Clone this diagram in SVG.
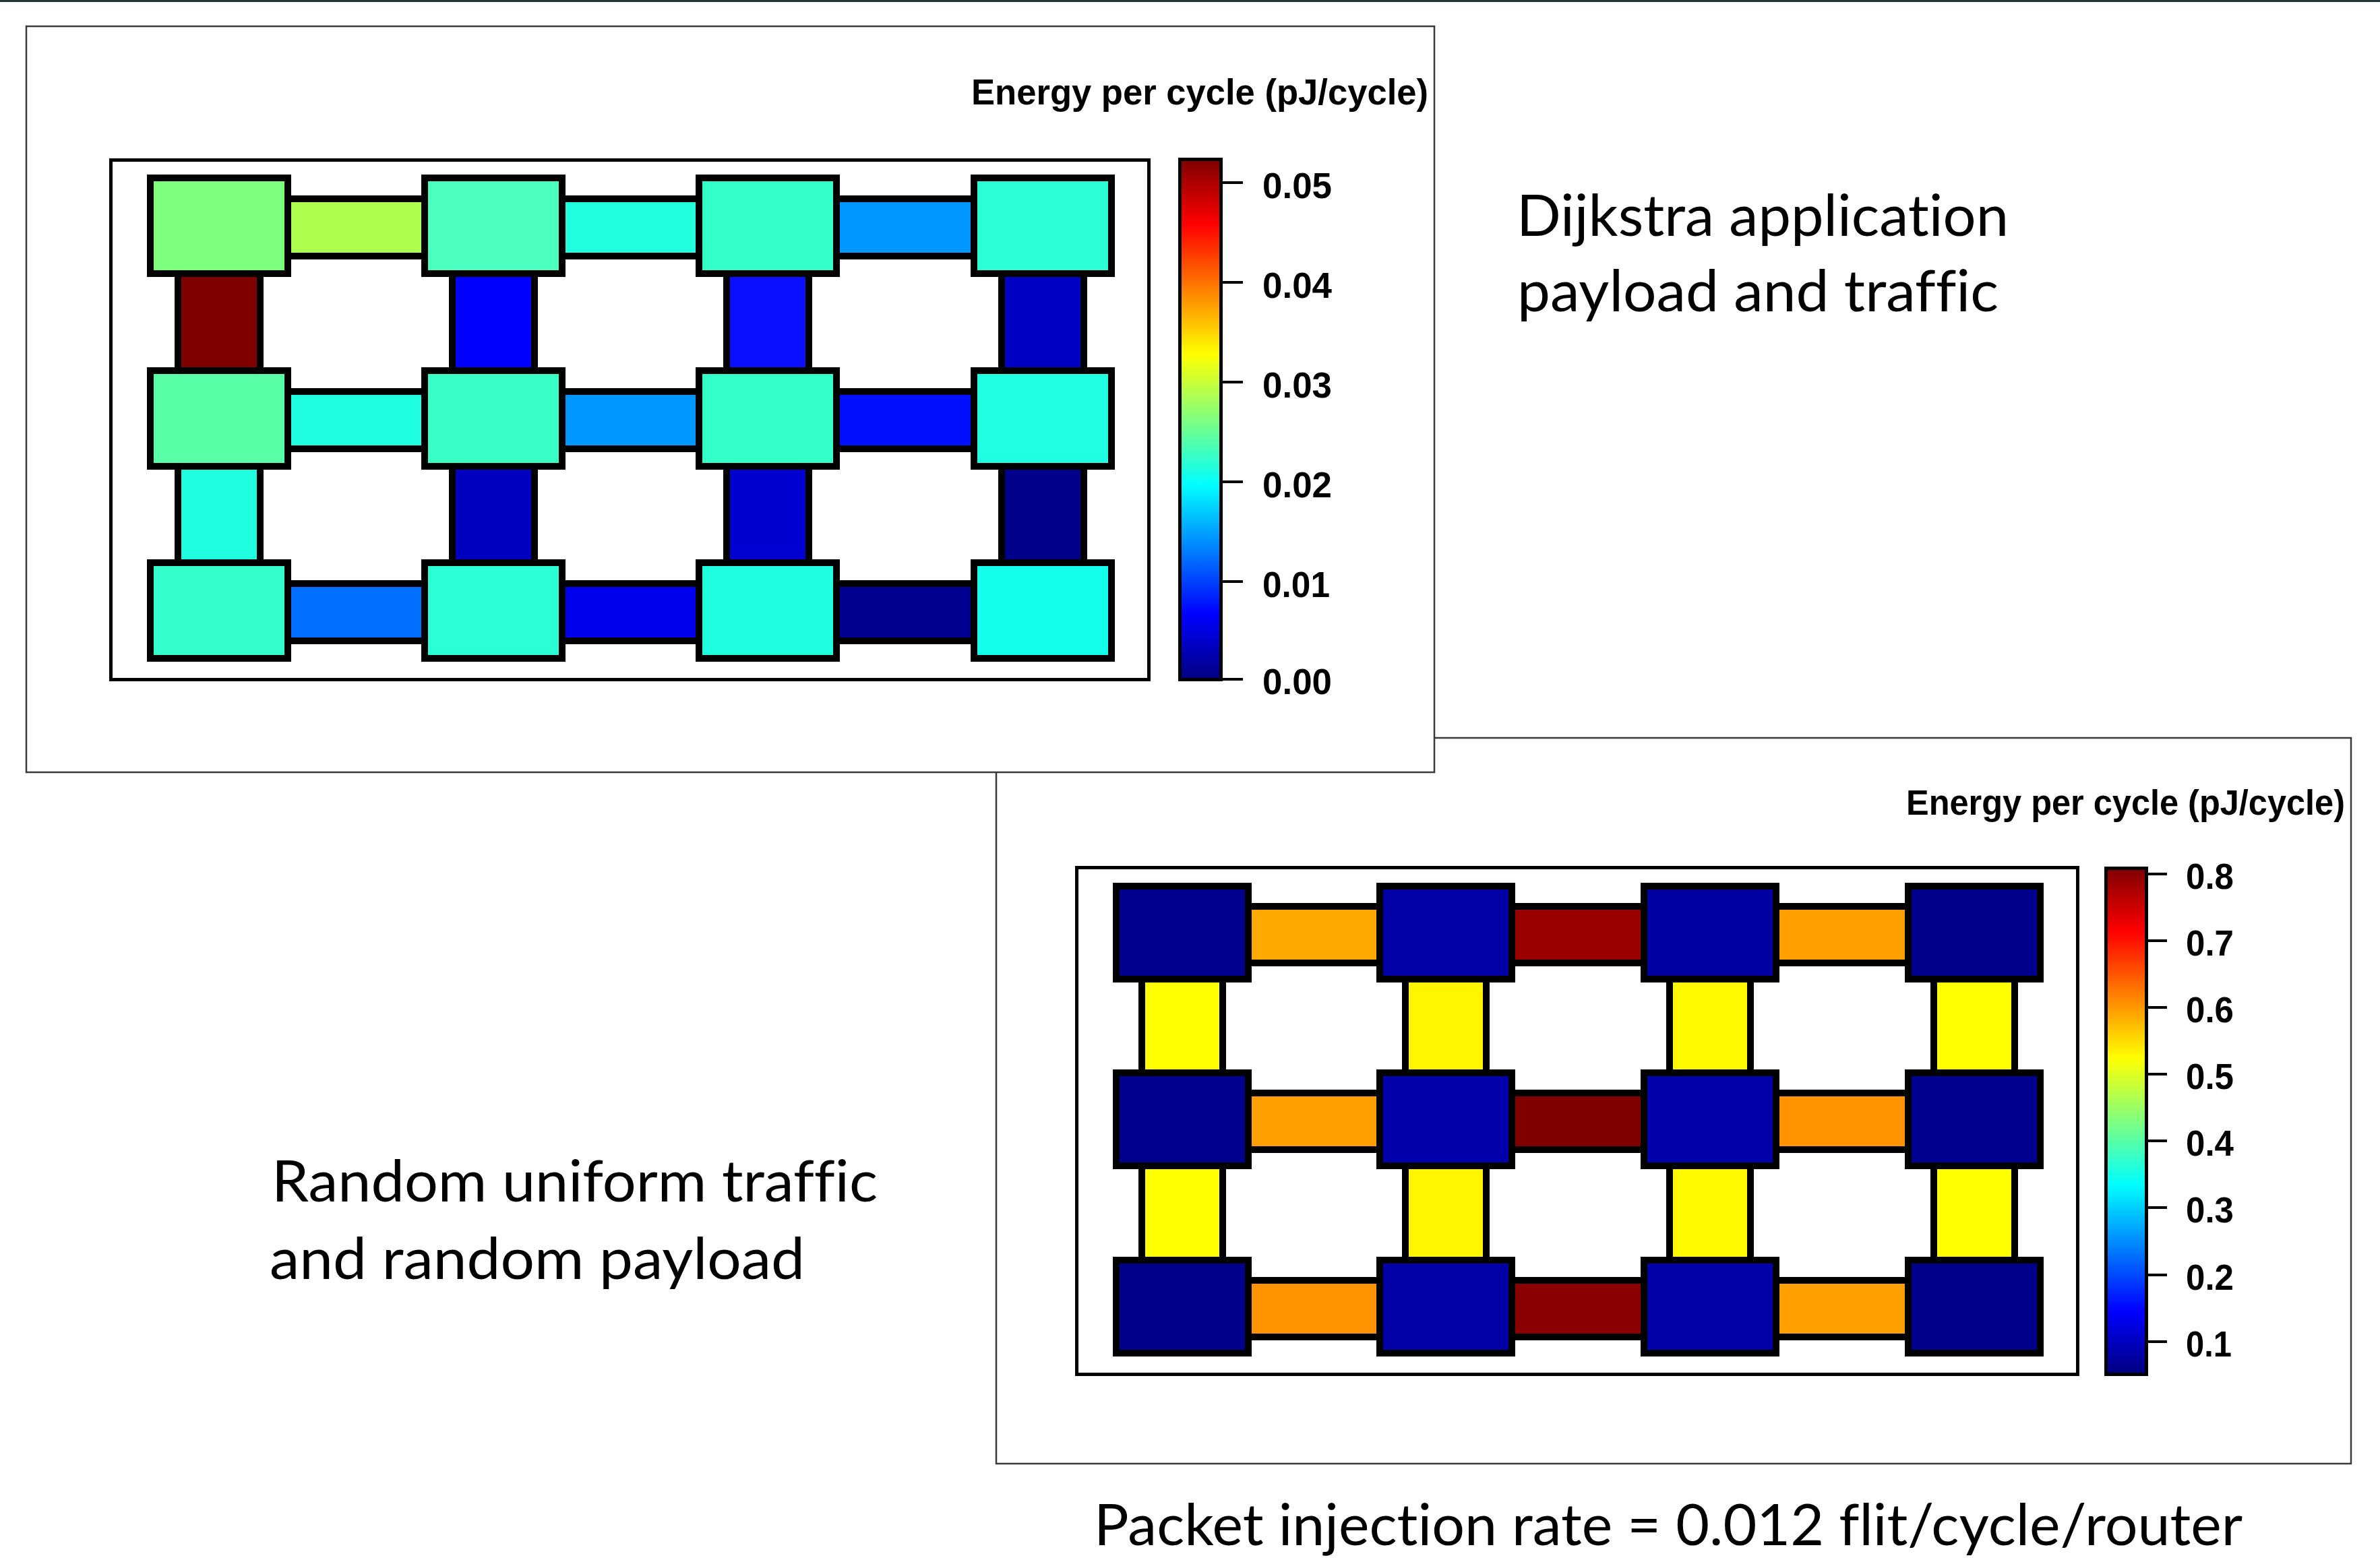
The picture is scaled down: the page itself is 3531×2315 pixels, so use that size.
<svg xmlns="http://www.w3.org/2000/svg" width="3531" height="2315" viewBox="0 0 3531 2315">
<defs>
<linearGradient id="jet" x1="0" y1="1" x2="0" y2="0">
<stop offset="0" stop-color="#00007F"/>
<stop offset="0.125" stop-color="#0000FF"/>
<stop offset="0.375" stop-color="#00FFFF"/>
<stop offset="0.625" stop-color="#FFFF00"/>
<stop offset="0.875" stop-color="#FF0000"/>
<stop offset="1" stop-color="#7F0000"/>
</linearGradient>
<style>
.panel{fill:#FFFFFF;stroke:#3A3A3A;stroke-width:2.5}
.frame{fill:none;stroke:#000;stroke-width:5}
.cbar{fill:url(#jet);stroke:#000;stroke-width:5}
.tick{stroke:#000;stroke-width:4}
.node rect,.link{stroke:#000;stroke-width:10}
.title{font-family:"Liberation Sans",Arial,sans-serif;font-weight:bold;fill:#000}
.tl{font-family:"Liberation Sans",Arial,sans-serif;font-size:54px;font-weight:bold;fill:#000}
.cap{font-family:Lato,"Open Sans",sans-serif;font-size:85px;fill:#000;font-variant-ligatures:none;font-feature-settings:"liga" 0,"dlig" 0}
</style>
</defs>
<rect x="0" y="0" width="3531" height="3" fill="#203636"/>

<!-- Panel 2 (behind) -->
<g id="panel2">
<rect class="panel" x="1478" y="1095" width="2010" height="1077"/>
<rect class="frame" x="1597.5" y="1287.5" width="1485" height="752"/>
<text class="title" x="2828" y="1209" font-size="51" textLength="651" lengthAdjust="spacingAndGlyphs">Energy per cycle (pJ/cycle)</text>
<g id="colorbar2">
<rect class="cbar" x="3124.5" y="1288.5" width="60" height="751"/>
<g class="tick">
<line x1="3187" y1="1297" x2="3215" y2="1297"/>
<line x1="3187" y1="1396" x2="3215" y2="1396"/>
<line x1="3187" y1="1495" x2="3215" y2="1495"/>
<line x1="3187" y1="1594" x2="3215" y2="1594"/>
<line x1="3187" y1="1693" x2="3215" y2="1693"/>
<line x1="3187" y1="1792" x2="3215" y2="1792"/>
<line x1="3187" y1="1892" x2="3215" y2="1892"/>
<line x1="3187" y1="1991" x2="3215" y2="1991"/>
</g>
<text class="tl" x="3243" y="1319" textLength="71" lengthAdjust="spacingAndGlyphs">0.8</text>
<text class="tl" x="3243" y="1418" textLength="71" lengthAdjust="spacingAndGlyphs">0.7</text>
<text class="tl" x="3243" y="1517" textLength="71" lengthAdjust="spacingAndGlyphs">0.6</text>
<text class="tl" x="3243" y="1616" textLength="71" lengthAdjust="spacingAndGlyphs">0.5</text>
<text class="tl" x="3243" y="1715" textLength="71" lengthAdjust="spacingAndGlyphs">0.4</text>
<text class="tl" x="3243" y="1814" textLength="71" lengthAdjust="spacingAndGlyphs">0.3</text>
<text class="tl" x="3243" y="1914" textLength="71" lengthAdjust="spacingAndGlyphs">0.2</text>
<text class="tl" x="3243" y="2013" textLength="68" lengthAdjust="spacingAndGlyphs">0.1</text>
</g>
<g id="links2">
<rect class="link" x="1754" y="1345" width="391" height="84" fill="#FFAA00"/>
<rect class="link" x="2145" y="1345" width="392" height="84" fill="#990000"/>
<rect class="link" x="2537" y="1345" width="392" height="84" fill="#FFA000"/>
<rect class="link" x="1754" y="1622" width="391" height="84" fill="#FFA000"/>
<rect class="link" x="2145" y="1622" width="392" height="84" fill="#800000"/>
<rect class="link" x="2537" y="1622" width="392" height="84" fill="#FF9400"/>
<rect class="link" x="1754" y="1900" width="391" height="84" fill="#FF9400"/>
<rect class="link" x="2145" y="1900" width="392" height="84" fill="#8A0000"/>
<rect class="link" x="2537" y="1900" width="392" height="84" fill="#FFA000"/>
<rect class="link" x="1694" y="1384" width="120" height="277" fill="#FFFF00"/>
<rect class="link" x="2085" y="1384" width="120" height="277" fill="#FFF500"/>
<rect class="link" x="2477" y="1384" width="120" height="277" fill="#FFFA00"/>
<rect class="link" x="2869" y="1384" width="120" height="277" fill="#FFFF00"/>
<rect class="link" x="1694" y="1661" width="120" height="278" fill="#FFFF00"/>
<rect class="link" x="2085" y="1661" width="120" height="278" fill="#FFF500"/>
<rect class="link" x="2477" y="1661" width="120" height="278" fill="#FFFA00"/>
<rect class="link" x="2869" y="1661" width="120" height="278" fill="#FFFF00"/>
</g>
<g id="n2_11" class="node"><rect x="1656" y="1315" width="196" height="138" fill="#00008F"/></g>
<g id="n2_12" class="node"><rect x="2047" y="1315" width="196" height="138" fill="#0000A5"/></g>
<g id="n2_13" class="node"><rect x="2439" y="1315" width="196" height="138" fill="#0000A0"/></g>
<g id="n2_14" class="node"><rect x="2831" y="1315" width="196" height="138" fill="#00008D"/></g>
<g id="n2_21" class="node"><rect x="1656" y="1592" width="196" height="138" fill="#00008F"/></g>
<g id="n2_22" class="node"><rect x="2047" y="1592" width="196" height="138" fill="#0000AA"/></g>
<g id="n2_23" class="node"><rect x="2439" y="1592" width="196" height="138" fill="#0000A8"/></g>
<g id="n2_24" class="node"><rect x="2831" y="1592" width="196" height="138" fill="#000090"/></g>
<g id="n2_31" class="node"><rect x="1656" y="1870" width="196" height="138" fill="#00008A"/></g>
<g id="n2_32" class="node"><rect x="2047" y="1870" width="196" height="138" fill="#0000A5"/></g>
<g id="n2_33" class="node"><rect x="2439" y="1870" width="196" height="138" fill="#0000A5"/></g>
<g id="n2_34" class="node"><rect x="2831" y="1870" width="196" height="138" fill="#00008A"/></g>
</g>

<!-- Panel 1 (front) -->
<g id="panel1">
<rect class="panel" x="39" y="39" width="2089" height="1107"/>
<rect class="frame" x="164.5" y="237.5" width="1540" height="771"/>
<text class="title" x="1441" y="155" font-size="53" textLength="678" lengthAdjust="spacingAndGlyphs">Energy per cycle (pJ/cycle)</text>
<g id="colorbar1">
<rect class="cbar" x="1750.5" y="236.5" width="61" height="772"/>
<g class="tick">
<line x1="1814" y1="271" x2="1844" y2="271"/>
<line x1="1814" y1="419" x2="1844" y2="419"/>
<line x1="1814" y1="567" x2="1844" y2="567"/>
<line x1="1814" y1="715" x2="1844" y2="715"/>
<line x1="1814" y1="863" x2="1844" y2="863"/>
<line x1="1814" y1="1008" x2="1844" y2="1008"/>
</g>
<text class="tl" x="1873" y="294" textLength="103" lengthAdjust="spacingAndGlyphs">0.05</text>
<text class="tl" x="1873" y="442" textLength="103" lengthAdjust="spacingAndGlyphs">0.04</text>
<text class="tl" x="1873" y="590" textLength="103" lengthAdjust="spacingAndGlyphs">0.03</text>
<text class="tl" x="1873" y="738" textLength="103" lengthAdjust="spacingAndGlyphs">0.02</text>
<text class="tl" x="1873" y="886" textLength="100" lengthAdjust="spacingAndGlyphs">0.01</text>
<text class="tl" x="1873" y="1030" textLength="103" lengthAdjust="spacingAndGlyphs">0.00</text>
</g>
<g id="links1">
<rect class="link" x="325" y="295" width="407" height="85" fill="#AFFF4F"/>
<rect class="link" x="732" y="295" width="407" height="85" fill="#22FFDC"/>
<rect class="link" x="1139" y="295" width="408" height="85" fill="#0096FF"/>
<rect class="link" x="325" y="581" width="407" height="85" fill="#1FFFE0"/>
<rect class="link" x="732" y="581" width="407" height="85" fill="#0096FF"/>
<rect class="link" x="1139" y="581" width="408" height="85" fill="#0010FF"/>
<rect class="link" x="325" y="866" width="407" height="85" fill="#006FFF"/>
<rect class="link" x="732" y="866" width="407" height="85" fill="#0000EE"/>
<rect class="link" x="1139" y="866" width="408" height="85" fill="#000090"/>
<rect class="link" x="264" y="335" width="122" height="286" fill="#7F0000"/>
<rect class="link" x="671" y="335" width="122" height="286" fill="#0000FF"/>
<rect class="link" x="1078" y="335" width="122" height="286" fill="#0A10FF"/>
<rect class="link" x="1486" y="335" width="122" height="286" fill="#0000C4"/>
<rect class="link" x="264" y="621" width="122" height="285" fill="#1FFFE0"/>
<rect class="link" x="671" y="621" width="122" height="285" fill="#0000C0"/>
<rect class="link" x="1078" y="621" width="122" height="285" fill="#0000D0"/>
<rect class="link" x="1486" y="621" width="122" height="285" fill="#00008A"/>
</g>
<g id="n1_11" class="node"><rect x="223" y="264" width="204" height="142" fill="#7BFF7D"/></g>
<g id="n1_12" class="node"><rect x="630" y="264" width="204" height="142" fill="#4AFFBF"/></g>
<g id="n1_13" class="node"><rect x="1037" y="264" width="204" height="142" fill="#33FFC8"/></g>
<g id="n1_14" class="node"><rect x="1445" y="264" width="204" height="142" fill="#2AFFD5"/></g>
<g id="n1_21" class="node"><rect x="223" y="550" width="204" height="142" fill="#58FFA6"/></g>
<g id="n1_22" class="node"><rect x="630" y="550" width="204" height="142" fill="#3AFFC5"/></g>
<g id="n1_23" class="node"><rect x="1037" y="550" width="204" height="142" fill="#33FFC8"/></g>
<g id="n1_24" class="node"><rect x="1445" y="550" width="204" height="142" fill="#20FFDF"/></g>
<g id="n1_31" class="node"><rect x="223" y="835" width="204" height="142" fill="#33FFCC"/></g>
<g id="n1_32" class="node"><rect x="630" y="835" width="204" height="142" fill="#2AFFD5"/></g>
<g id="n1_33" class="node"><rect x="1037" y="835" width="204" height="142" fill="#1FFFE0"/></g>
<g id="n1_34" class="node"><rect x="1445" y="835" width="204" height="142" fill="#13FFEB"/></g>
</g>

<g id="captions">
<text class="cap" x="2250" y="350" textLength="730" lengthAdjust="spacingAndGlyphs">Dijkstra application</text>
<text class="cap" x="2251" y="462" textLength="714" lengthAdjust="spacingAndGlyphs">payload and traffic</text>
<text class="cap" x="403" y="1783" textLength="899" lengthAdjust="spacingAndGlyphs">Random uniform traffic</text>
<text class="cap" x="400" y="1898" textLength="794" lengthAdjust="spacingAndGlyphs">and random payload</text>
<text class="cap" x="1623" y="2293" textLength="1704" lengthAdjust="spacingAndGlyphs">Packet injection rate = 0.012 flit/cycle/router</text>
</g>
</svg>
